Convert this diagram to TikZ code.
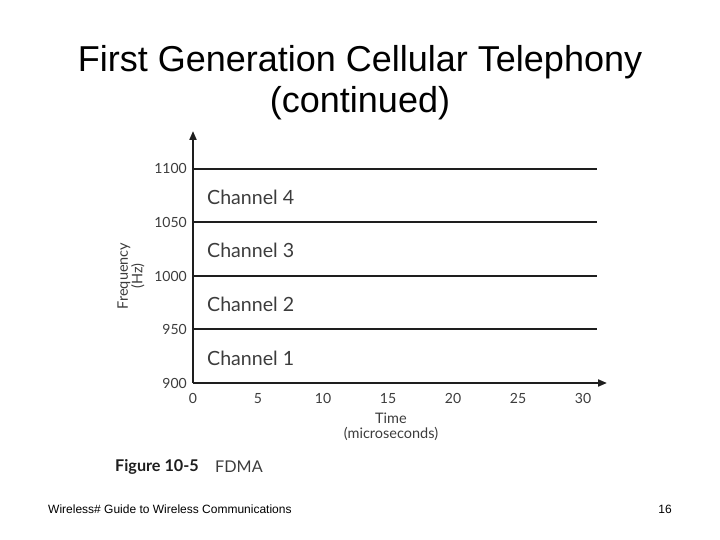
\documentclass[tikz,border=0pt]{standalone}
\usepackage{fontspec}
\setmainfont{Liberation Sans}
\newfontfamily\figfont[Numbers=Lining]{Lato}
\usepackage{tikz}
\usetikzlibrary{arrows.meta, positioning, calc}
\usepackage{xcolor}
\definecolor{axisgray}{RGB}{30,30,30}
\definecolor{labelgray}{RGB}{60,60,60}

\begin{document}
\begin{tikzpicture}[x=1pt, y=-1pt,
  axisline/.style={draw=axisgray, line width=2pt},
  ticklabel/.style={text=labelgray, font=\figfont\fontsize{14}{14}\selectfont, inner sep=0pt, text height=10pt, text depth=0pt},
  chanlabel/.style={text=labelgray, font=\figfont\fontsize{19.6}{19.6}\selectfont, inner sep=0pt, anchor=west}]
  \useasboundingbox (0,0) rectangle (720,540);
  % Title
  \node (title) at (360,62) {\fontsize{36}{36}\selectfont First Generation Cellular Telephony};
  \node (title2) at (360,103) {\fontsize{36}{36}\selectfont (continued)};
  % Axes
  \coordinate (origin) at (193,383);
  \coordinate (ytip) at (193,131);
  \coordinate (xtip) at (607,383);
  \draw[axisline, -{Triangle[length=9pt, width=7pt]}] (origin) -- (ytip);
  \draw[axisline, -{Triangle[length=9pt, width=7pt]}] (origin) -- (xtip);
  % Frequency bands
  \foreach \f/\y in {1100/169, 1050/222, 1000/276, 950/329} {
    \coordinate (l\f) at (193,\y);
    \coordinate (r\f) at (597,\y);
    \draw[axisline] (l\f) -- (r\f);
  }
  \foreach \f/\y in {1100/169, 1050/222, 1000/276, 950/329, 900/383} {
    \node[ticklabel, anchor=base east] (f\f) at (187,\y+5) {\f};
  }
  \foreach \t/\x in {0/193, 5/258, 10/323, 15/388, 20/453, 25/518, 30/583} {
    \node[ticklabel, anchor=base] (t\t) at (\x,403) {\t};
  }
  % Channels
  \foreach \c/\y in {4/197, 3/250, 2/304, 1/358} {
    \node[chanlabel] (ch\c) at (207,\y) {Channel \c};
  }
  % Axis titles
  \node[text=labelgray, inner sep=0pt, rotate=90, align=center, font=\figfont\fontsize{14.5}{14.5}\selectfont] (freq) at (131,276) {Frequency\\(Hz)};
  \node[text=labelgray, inner sep=0pt, align=center, font=\figfont\fontsize{14.5}{14.5}\selectfont] (time) at (391,427) {Time\\(microseconds)};
  % Caption
  \node[anchor=west, inner sep=0pt, text=axisgray, font=\figfont\bfseries\fontsize{16.2}{16.2}\selectfont] (fig) at (115,467) {Figure 10-5};
  \node[anchor=west, inner sep=0pt, text=labelgray, font=\figfont\fontsize{16.2}{16.2}\selectfont] (fdma) at (215,467) {FDMA};
  % Footer
  \node[anchor=west, inner sep=0pt, font=\fontsize{12}{12}\selectfont] (footer) at (48,509) {Wireless\# Guide to Wireless Communications};
  \node[inner sep=0pt, font=\fontsize{12}{12}\selectfont] (page) at (665,509) {16};
\end{tikzpicture}
\end{document}
